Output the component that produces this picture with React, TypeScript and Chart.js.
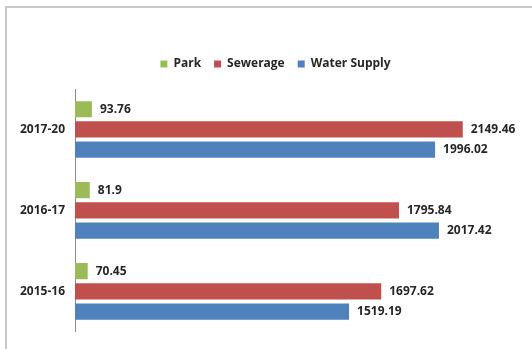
import React, { useEffect, useRef } from 'react';
import { Chart, registerables } from 'chart.js';

Chart.register(...registerables);

// Budget by period and sector
const categories = ['2017-20', '2016-17', '2015-16'];
const seriesNames = ['Park', 'Sewerage', 'Water Supply'];
const parkValues = [93.76, 81.9, 70.45];
const sewerageValues = [2149.46, 1795.84, 1697.62];
const waterSupplyValues = [1996.02, 2017.42, 1519.19];
const seriesColors = ['#9bbb59', '#c0504d', '#4f81bd'];
const valueAxisMax = 2500;

const FONT_FAMILY = '"Open Sans", sans-serif';
const TEXT_COLOR = '#262626';

// Writes each bar's value just past its end
const valueLabels = {
  id: 'valueLabels',
  afterDatasetsDraw(chart: any) {
    const ctx = chart.ctx;
    ctx.save();
    ctx.font = `700 12px ${FONT_FAMILY}`;
    ctx.fillStyle = TEXT_COLOR;
    ctx.textAlign = 'left';
    ctx.textBaseline = 'middle';
    chart.data.datasets.forEach((ds: any, i: number) => {
      const meta = chart.getDatasetMeta(i);
      if (meta.hidden) return;
      meta.data.forEach((bar: any, j: number) => {
        ctx.fillText(String(ds.data[j]), bar.x + 8, bar.y);
      });
    });
    ctx.restore();
  },
};

// Leaves extra room under the legend and centres it over the framed panel
const legendPlacement = {
  id: 'legendPlacement',
  afterInit(chart: any) {
    const legend = chart.legend;
    if (!legend) return;
    const fit = legend.fit.bind(legend);
    legend.fit = function () {
      fit();
      this.height += 9;
    };
  },
  afterLayout(chart: any) {
    const legend = chart.legend;
    if (!legend) return;
    legend.left += 12.5;
    legend.right += 12.5;
  },
};

export default function App() {
  const canvasRef = useRef<HTMLCanvasElement | null>(null);

  useEffect(() => {
    const canvas = canvasRef.current;
    if (!canvas) return;
    const values = [parkValues, sewerageValues, waterSupplyValues];
    const chart = new Chart(canvas, {
      type: 'bar',
      data: {
        labels: categories,
        datasets: seriesNames.map((name, i) => ({
          label: name,
          data: values[i],
          backgroundColor: seriesColors[i],
          borderWidth: 0,
          categoryPercentage: 0.75,
          barPercentage: 0.8,
        })),
      },
      options: {
        indexAxis: 'y',
        responsive: false,
        animation: false,
        devicePixelRatio: 1,
        layout: { padding: { top: 45, left: 0, right: 6, bottom: 6 } },
        plugins: {
          legend: {
            position: 'top',
            labels: {
              boxWidth: 7,
              boxHeight: 7,
              padding: 13,
              color: TEXT_COLOR,
              font: { family: FONT_FAMILY, size: 12, weight: '700' },
            },
          },
          tooltip: { enabled: false },
        },
        scales: {
          x: {
            display: false,
            min: 0,
            max: valueAxisMax,
          },
          y: {
            grid: { display: false, drawTicks: false },
            border: { display: true, color: '#8c8c8c', width: 1 },
            ticks: {
              padding: 10,
              color: TEXT_COLOR,
              font: { family: FONT_FAMILY, size: 12, weight: '700' },
            },
            afterFit(scale: any) {
              scale.width = 75;
            },
          },
        },
      },
      plugins: [valueLabels, legendPlacement],
    });
    return () => chart.destroy();
  }, []);

  return (
    <div
      style={{
        position: 'absolute',
        left: 0,
        top: 0,
        width: 532,
        height: 349,
        overflow: 'hidden',
        background: '#ffffff',
      }}
    >
      <div
        style={{
          position: 'absolute',
          left: 5,
          top: 6,
          width: 600,
          height: 400,
          borderTop: '2px solid #c8c8c8',
          borderLeft: '2px solid #c8c8c8',
        }}
      />
      <canvas
        ref={canvasRef}
        width={532}
        height={349}
        style={{ position: 'absolute', left: 0, top: 0, width: 532, height: 349 }}
      />
    </div>
  );
}
